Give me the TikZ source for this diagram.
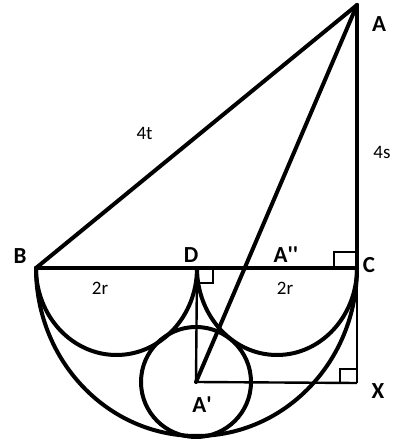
\documentclass[tikz,border=0pt]{standalone}
\usepackage{fontspec}
\newfontfamily\lblfont{Carlito}
\begin{document}
\begin{tikzpicture}[x=1pt,y=1pt,
  thick line/.style={line width=4pt, line cap=round, line join=round},
  thin line/.style={line width=2.4pt},
  mark line/.style={line width=2pt},
  lbl/.style={font=\lblfont\bfseries\fontsize{23}{23}\selectfont, inner sep=0pt},
  msr/.style={font=\lblfont\fontsize{19}{19}\selectfont, inner sep=0pt}]
\useasboundingbox (0,0) rectangle (392,442);
\fill[white] (0,0) rectangle (392,442);
% points
\coordinate (A) at (357,437);
\coordinate (B) at (36,174);
\coordinate (C) at (357,174);
\coordinate (D) at (197,174);
\coordinate (Ap) at (196,60);
\coordinate (X) at (357,59);
% arcs and circle
\draw[thick line] (B) arc[start angle=180, end angle=360, x radius=160.5, y radius=168];
\draw[thick line] (B) arc[start angle=180, end angle=360, x radius=80.5, y radius=87];
\draw[thick line] (D) arc[start angle=180, end angle=360, x radius=80, y radius=87];
\draw[thick line] (Ap) circle[radius=55];
% thin lines
\draw[thin line] (D) -- (Ap);
\draw[thin line] (Ap) -- (X);
\draw[thin line] (C) -- (X);
% main lines
\draw[thick line] (B) -- (C);
\draw[thick line] (A) -- (B);
\draw[thick line] (A) -- (C);
\draw[thick line] (A) -- (Ap);
% right angle marks
\draw[mark line] (334,174) -- (334,190) -- (357,190);
\draw[mark line] (198,159) -- (213,159) -- (213,174);
\draw[mark line] (340,59) -- (340,73) -- (357,73);
% labels
\node[lbl] (lA) at (379,418) {A};
\node[lbl] (lB) at (20,186) {B};
\node[lbl] (lD) at (191,187) {D};
\node[lbl] (lApp) at (286,187) {A\textquotesingle\textquotesingle};
\node[lbl] (lC) at (369,177) {C};
\node[lbl] (lX) at (378,51) {X};
\node[lbl] (lAp) at (202,37) {A\textquotesingle};
\node[msr] (l4t) at (144.5,309) {4t};
\node[msr] (l4s) at (382,290) {4s};
\node[msr] (l2r1) at (100,154) {2r};
\node[msr] (l2r2) at (285,154) {2r};
\end{tikzpicture}
\end{document}
